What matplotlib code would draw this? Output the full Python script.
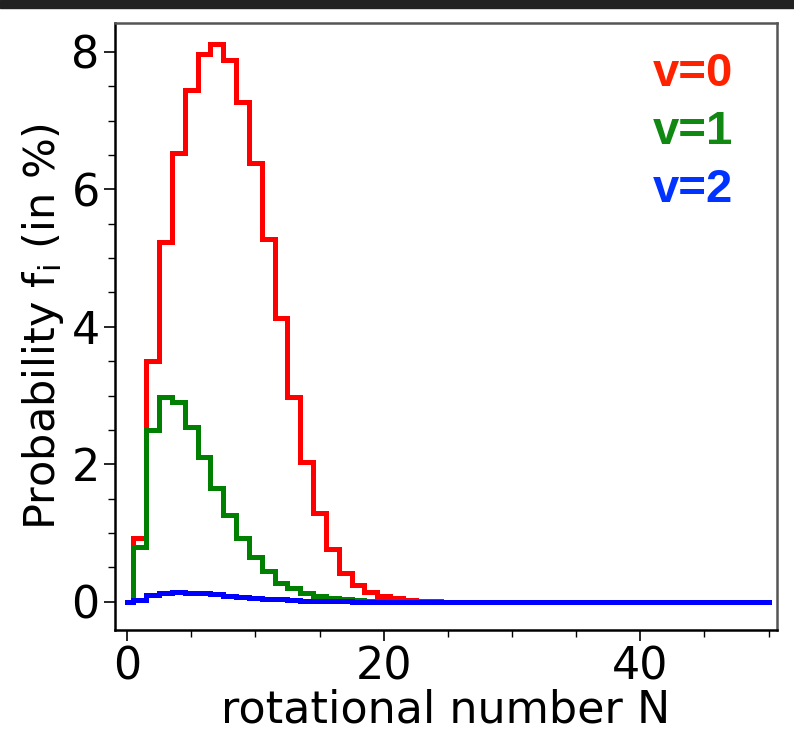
import numpy as np
import matplotlib
matplotlib.use("Agg")
import matplotlib.pyplot as plt
from matplotlib.patches import Rectangle
from matplotlib.ticker import MultipleLocator

# rotational number N = 0..50
N = np.arange(0, 51)

# probability f_i (in %) per rotational level
f_v0 = [0.0, 0.93, 3.50, 5.24, 6.53, 7.45, 7.97, 8.12, 7.88, 7.27,
        6.38, 5.28, 4.13, 2.98, 2.04, 1.29, 0.77, 0.42, 0.24, 0.15,
        0.09, 0.05, 0.03, 0.015, 0.008, 0.004]
f_v1 = [0.0, 0.80, 2.50, 2.98, 2.91, 2.55, 2.11, 1.66, 1.27, 0.93,
        0.65, 0.45, 0.28, 0.20, 0.13, 0.09, 0.06, 0.04, 0.025, 0.015,
        0.008]
f_v2 = [0.0, 0.03, 0.10, 0.13, 0.14, 0.135, 0.125, 0.11, 0.09, 0.075,
        0.06, 0.045, 0.035, 0.025, 0.018, 0.012, 0.008, 0.005, 0.003, 0.002]

labels = ["v=0", "v=1", "v=2"]
line_colors = ["#ff0000", "#008000", "#0000ff"]
text_colors = ["#ff2200", "#118811", "#0033ff"]


def pad(vals):
    # zero for every level above the last one read
    out = np.zeros(len(N))
    out[:len(vals)] = vals
    return out


fig = plt.figure(figsize=(7.94, 7.41), dpi=100)
ax = fig.add_axes([115 / 794, 1 - 630 / 741, 662 / 794, 607 / 741])

for vals, c in zip([f_v0, f_v1, f_v2], line_colors):
    ax.step(N, pad(vals), where="mid", color=c, lw=3.6, solid_joinstyle="miter")

ax.set_xlim(-0.94, 50.66)
ax.set_ylim(-0.41, 8.42)

ax.xaxis.set_major_locator(MultipleLocator(20))
ax.xaxis.set_minor_locator(MultipleLocator(5))
ax.yaxis.set_major_locator(MultipleLocator(2))
ax.yaxis.set_minor_locator(MultipleLocator(0.5))
ax.tick_params(which="major", direction="out", length=8, width=1.2, labelsize=32, pad=3)
ax.tick_params(which="minor", direction="out", length=5, width=1.0)

for s in ax.spines.values():
    s.set_linewidth(1.8)
ax.spines["top"].set_color("#555555")
ax.spines["right"].set_color("#555555")

ax.set_xlabel("rotational number N", fontsize=32, labelpad=0)
ax.set_ylabel(r"Probability f$_\mathregular{i}$ (in %)", fontsize=31, labelpad=4)

# coloured labels in the upper right
ypos = [0.916, 0.820, 0.725]
for lab, c, yy in zip(labels, text_colors, ypos):
    ax.text(0.934, yy, lab, transform=ax.transAxes, ha="right", va="center",
            color=c, fontsize=34, fontweight="bold", family="Liberation Sans")

# dark strip along the top edge
fig.patches.append(Rectangle((0, 1 - 8 / 741), 1, 8 / 741, transform=fig.transFigure,
                             color="#222222", zorder=10))

fig.savefig("out.png", dpi=100)
